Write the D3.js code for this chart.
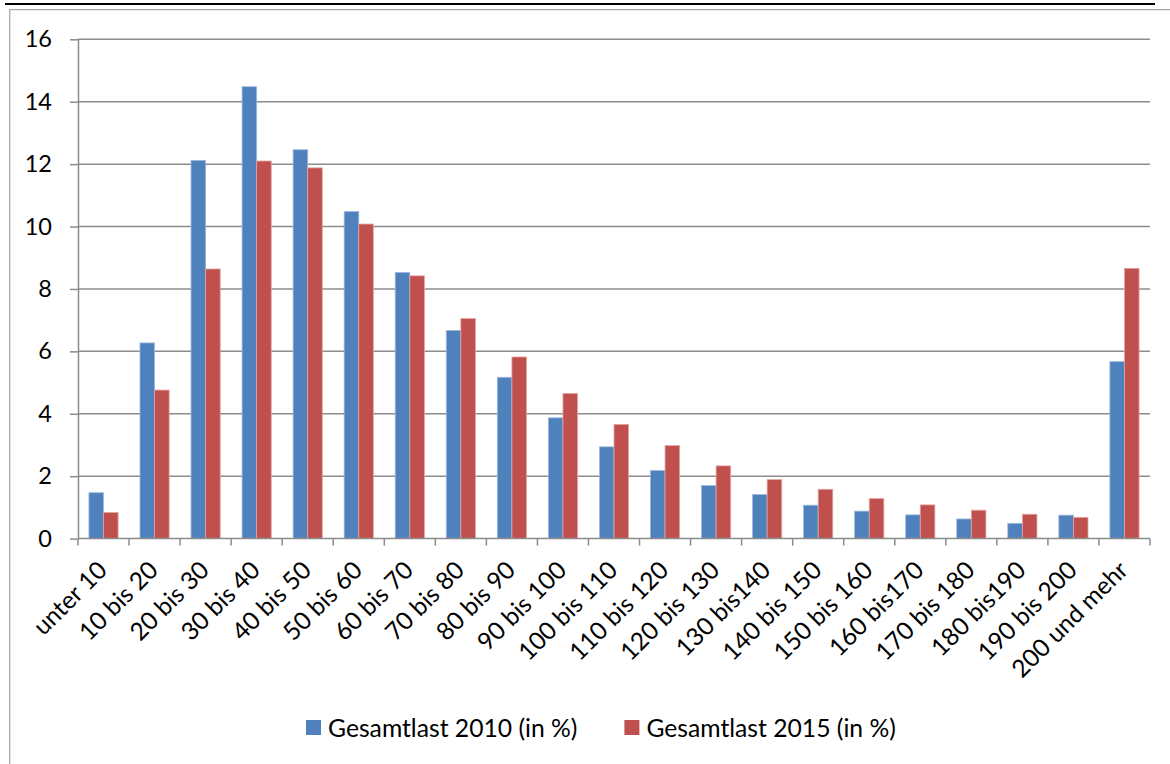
<!DOCTYPE html>
<html>
<head>
<meta charset="utf-8">
<script src="https://cdn.jsdelivr.net/npm/d3@7"></script>
<style>
  body { margin: 0; background: #fff; }
  text { font-family: Lato, "Open Sans", sans-serif; fill: #000; }
</style>
</head>
<body>
<div id="chart"></div>
<script>
// categories and series (values in %)
var categories = ["unter 10", "10 bis 20", "20 bis 30", "30 bis 40", "40 bis 50", "50 bis 60",
  "60 bis 70", "70 bis 80", "80 bis 90", "90 bis 100", "100 bis 110", "110 bis 120",
  "120 bis 130", "130 bis140", "140 bis 150", "150 bis 160", "160 bis170", "170 bis 180",
  "180 bis190", "190 bis 200", "200 und mehr"];
var seriesNames = ["Gesamtlast 2010 (in %)", "Gesamtlast 2015 (in %)"];
var values2010 = [1.47, 6.27, 12.12, 14.48, 12.46, 10.48, 8.53, 6.67, 5.17, 3.87, 2.94,
  2.18, 1.70, 1.41, 1.07, 0.88, 0.76, 0.63, 0.49, 0.75, 5.67];
var values2015 = [0.84, 4.76, 8.64, 12.10, 11.88, 10.08, 8.42, 7.05, 5.82, 4.65, 3.66,
  2.98, 2.33, 1.89, 1.58, 1.28, 1.08, 0.91, 0.78, 0.68, 8.66];
var yTicks = [0, 2, 4, 6, 8, 10, 12, 14, 16];
var colors = ["#4F81BD", "#C0504D"];
var edgeColors = ["#9DB9DC", "#E3A5A3"];

var W = 1170, H = 764;
var plot = {left: 78, right: 1150, top: 39.3, bottom: 538.6};
var gridColor = "#8C8C8C";

var svg = d3.select("#chart").append("svg")
    .attr("width", W)
    .attr("height", H);

// frame
svg.append("rect").attr("x", 5).attr("y", 3).attr("width", 1150).attr("height", 2).attr("fill", "#000");
svg.append("path")
    .attr("d", "M9.7," + H + "V9.7H" + W)
    .attr("fill", "none")
    .attr("stroke", "#A6A6A6")
    .attr("stroke-width", 1.3);

var x = d3.scaleBand().domain(categories).range([plot.left, plot.right]);
var x1 = d3.scaleBand().domain(seriesNames).range([0, x.bandwidth()]).paddingOuter(0.75);
var y = d3.scaleLinear().domain([0, 16]).range([plot.bottom, plot.top]);

// gridlines
svg.append("g").selectAll("line")
    .data(yTicks.filter(function(d) { return d > 0; }))
    .enter().append("line")
    .attr("x1", plot.left).attr("x2", plot.right)
    .attr("y1", function(d) { return y(d); })
    .attr("y2", function(d) { return y(d); })
    .attr("stroke", gridColor)
    .attr("stroke-width", 1.5);

// bars
var data = categories.map(function(c, i) {
  return {cat: c, vals: [values2010[i], values2015[i]]};
});
var group = svg.append("g").selectAll("g")
    .data(data)
    .enter().append("g")
    .attr("transform", function(d) { return "translate(" + x(d.cat) + ",0)"; });
group.selectAll("rect")
    .data(function(d) { return d.vals.map(function(v, j) { return {s: j, v: v}; }); })
    .enter().append("rect")
    .attr("x", function(d) { return x1(seriesNames[d.s]); })
    .attr("width", x1.bandwidth())
    .attr("y", function(d) { return y(d.v); })
    .attr("height", function(d) { return y(0) - y(d.v); })
    .attr("fill", function(d) { return colors[d.s]; })
    .attr("stroke", function(d) { return edgeColors[d.s]; })
    .attr("stroke-width", 0.8);

// y axis
var yAxis = svg.append("g")
    .attr("transform", "translate(" + plot.left + ",0)")
    .call(d3.axisLeft(y).tickValues(yTicks).tickSize(8).tickPadding(18).tickSizeOuter(0));
yAxis.select(".domain").attr("stroke", gridColor).attr("stroke-width", 1.5);
yAxis.selectAll(".tick line").attr("stroke", gridColor).attr("stroke-width", 1.5);
yAxis.selectAll(".tick text")
    .style("font-family", "Lato, sans-serif")
    .style("font-size", "23.5px")
    .attr("fill", "#000");

// x axis with ticks at category boundaries
var xAxis = svg.append("g")
    .attr("transform", "translate(0," + plot.bottom + ")");
xAxis.append("line")
    .attr("x1", plot.left).attr("x2", plot.right)
    .attr("stroke", gridColor).attr("stroke-width", 1.5);
var bounds = categories.map(function(c) { return x(c); }).concat([plot.right]);
xAxis.selectAll(".bt")
    .data(bounds)
    .enter().append("line")
    .attr("class", "bt")
    .attr("x1", function(d) { return d; }).attr("x2", function(d) { return d; })
    .attr("y1", 0).attr("y2", 7)
    .attr("stroke", gridColor).attr("stroke-width", 1.5);
xAxis.selectAll(".lbl")
    .data(categories)
    .enter().append("text")
    .attr("class", "lbl")
    .attr("transform", function(d) {
      return "translate(" + (x(d) + x.bandwidth() / 2 + 5) + ",33) rotate(-45)";
    })
    .attr("text-anchor", "end")
    .style("font-size", "24.5px")
    .text(function(d) { return d; });

// legend
var legend = svg.append("g");
var lx = 306;
seriesNames.forEach(function(name, i) {
  var item = legend.append("g").attr("transform", "translate(" + lx + ",720)");
  item.append("rect").attr("width", 15).attr("height", 15).attr("fill", colors[i]);
  var t = item.append("text")
      .attr("x", 22).attr("y", 16.5)
      .style("font-size", "24.7px")
      .text(name);
  lx += 22 + t.node().getComputedTextLength() + 47;
});
</script>
</body>
</html>
